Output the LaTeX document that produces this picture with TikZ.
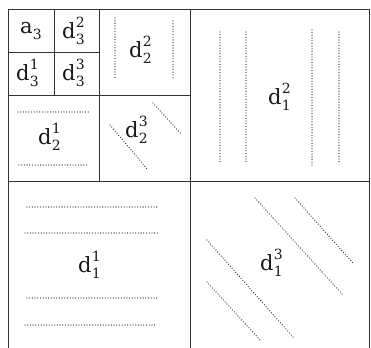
\documentclass[tikz,border=0pt]{standalone}
\usepackage{fontspec}
\setmainfont{DejaVu Serif}
\newcommand{\mylab}[3]{#1\kern0.3pt\raisebox{-0.3em}{\rlap{\fontsize{14}{14}\selectfont #2}}\raisebox{0.5em}{\fontsize{14}{14}\selectfont #3}\phantom{\fontsize{14}{14}\selectfont #2}}
\begin{document}
\begin{tikzpicture}[x=1pt,y=-1pt,
  frame/.style={draw=black!80,line width=0.9pt},
  dots/.style={draw=black!80,line width=1.3pt,line cap=round,dash pattern=on 0pt off 2.7pt},
  lbl/.style={font=\fontsize{21}{25}\selectfont,text=black!90,inner sep=0pt}]
\useasboundingbox (0,0) rectangle (371,347);
\fill[white] (0,0) rectangle (371,347);
\clip (0,0) rectangle (371,347);
% frames
\draw[frame] (8,9) rectangle (369,353);
\draw[frame] (190,9) -- (190,353);
\draw[frame] (8,181) -- (369,181);
\draw[frame] (99,9) -- (99,181);
\draw[frame] (8,95) -- (190,95);
\draw[frame] (54,9) -- (54,95);
\draw[frame] (8,52) -- (99,52);
% labels
\node[lbl] (a3) at (31,31) {\mylab{a}{3}{}};
\node[lbl] (d32) at (78,31) {\mylab{d}{3}{2}};
\node[lbl] (d31) at (32,73) {\mylab{d}{3}{1}};
\node[lbl] (d33) at (78,73) {\mylab{d}{3}{3}};
\node[lbl] (d22) at (145,50) {\mylab{d}{2}{2}};
\node[lbl] (d21) at (54,137) {\mylab{d}{2}{1}};
\node[lbl] (d23) at (141,130) {\mylab{d}{2}{3}};
\node[lbl] (d12) at (284,97) {\mylab{d}{1}{2}};
\node[lbl] (d11) at (94,265) {\mylab{d}{1}{1}};
\node[lbl] (d13) at (276,263) {\mylab{d}{1}{3}};
% d_2^2 vertical dots
\draw[dots] (115,18) -- (115,80);
\draw[dots] (173,21) -- (173,80);
% d_2^1 horizontal dots
\draw[dots] (18,112) -- (90,112);
\draw[dots] (19,165) -- (89,165);
% d_2^3 diagonal dots
\draw[dots] (110,125) -- (148,170);
\draw[dots] (153,103) -- (182,135);
% d_1^2 vertical dots
\draw[dots] (220,32) -- (220,162);
\draw[dots] (246,32) -- (246,162);
\draw[dots] (312,30) -- (312,165);
\draw[dots] (339,32) -- (339,162);
% d_1^1 horizontal dots
\draw[dots] (27,207) -- (157,207);
\draw[dots] (25,233) -- (158,233);
\draw[dots] (27,298) -- (157,298);
\draw[dots] (25,325) -- (157,325);
% d_1^3 diagonal dots
\draw[dots] (255,198) -- (343,295);
\draw[dots] (295,198) -- (353,263);
\draw[dots] (207,240) -- (293,337);
\draw[dots] (207,282) -- (260,340);
\end{tikzpicture}
\end{document}
